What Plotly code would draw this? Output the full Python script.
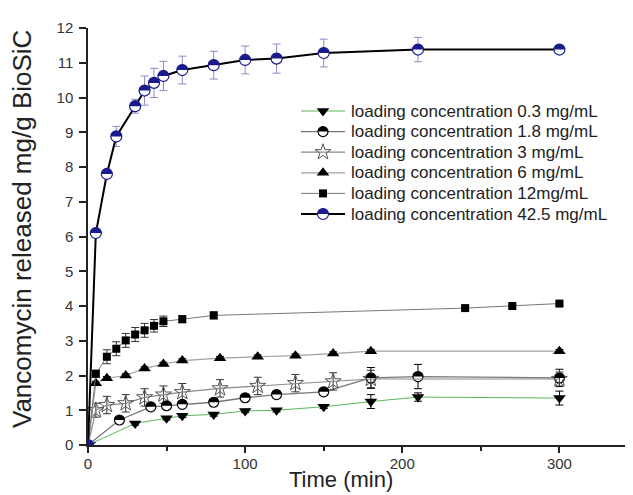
import math
import plotly.graph_objects as go

# ---- data ----
t_03 = [0, 30, 50, 60, 80, 100, 120, 150, 180, 210, 300]
v_03 = [0, 0.62, 0.77, 0.84, 0.88, 0.98, 1.0, 1.1, 1.25, 1.38, 1.35]
e_03 = [0, 0.05, 0.05, 0.05, 0.05, 0.05, 0.05, 0.05, 0.2, 0.12, 0.2]

t_18 = [0, 20, 40, 50, 60, 80, 100, 120, 150, 180, 210, 300]
v_18 = [0, 0.72, 1.1, 1.13, 1.17, 1.23, 1.36, 1.45, 1.53, 1.93, 1.97, 1.93]
e_18 = [0, 0.08, 0.08, 0.08, 0.08, 0.1, 0.1, 0.1, 0.1, 0.3, 0.35, 0.25]

t_3 = [0, 5, 12, 24, 36, 48, 60, 84, 108, 132, 156, 180, 300]
v_3 = [0, 1.0, 1.15, 1.2, 1.37, 1.45, 1.52, 1.63, 1.7, 1.78, 1.83, 1.9, 1.9]
e_3 = [0, 0.2, 0.25, 0.25, 0.25, 0.25, 0.25, 0.25, 0.25, 0.25, 0.25, 0.25, 0.2]

t_6 = [0, 5, 12, 24, 36, 48, 60, 84, 108, 132, 156, 180, 300]
v_6 = [0, 1.78, 1.92, 2.0, 2.2, 2.33, 2.43, 2.5, 2.54, 2.57, 2.63, 2.7, 2.7]
e_6 = [0, 0.05, 0.05, 0.05, 0.05, 0.05, 0.05, 0.05, 0.05, 0.05, 0.05, 0.05, 0.05]

t_12 = [0, 5, 12, 18, 24, 30, 36, 42, 48, 60, 80, 240, 270, 300]
v_12 = [0, 2.05, 2.54, 2.77, 3.01, 3.18, 3.3, 3.43, 3.56, 3.62, 3.73, 3.94, 4.0, 4.07]
e_12 = [0, 0.1, 0.2, 0.2, 0.2, 0.2, 0.2, 0.18, 0.15, 0.1, 0.1, 0.05, 0.05, 0.05]

t_425 = [0, 5, 12, 18, 30, 36, 42, 48, 60, 80, 100, 120, 150, 210, 300]
v_425 = [0, 6.1, 7.8, 8.88, 9.75, 10.2, 10.42, 10.62, 10.79, 10.93, 11.08, 11.12, 11.28, 11.38, 11.38]
e_425 = [0, 0.05, 0.05, 0.29, 0.2, 0.42, 0.42, 0.42, 0.4, 0.4, 0.4, 0.42, 0.4, 0.35, 0.05]

names = [
    "loading concentration 0.3 mg/mL",
    "loading concentration 1.8 mg/mL",
    "loading concentration 3 mg/mL",
    "loading concentration 6 mg/mL",
    "loading concentration 12mg/mL",
    "loading concentration 42.5 mg/mL",
]

x_ticks = [0, 100, 200, 300]
x_minor = [50, 150, 250, 350]

NAVY = "#1a1a8a"
FONT = "Liberation Sans, Arial, sans-serif"

# ---- styles (per series, in legend order) ----
styles = [
    dict(line=dict(color="#5cb85c", width=1),
         marker=dict(symbol="triangle-down", size=11, color="black"), err="black", half=None),
    dict(line=dict(color="#777777", width=1.3),
         marker=dict(symbol="circle", size=10, color="white", line=dict(color="black", width=1.2)),
         err="black", half="black"),
    dict(line=dict(color="#888888", width=1.2),
         marker=dict(symbol="star-open", size=12, color="#555555", line=dict(color="#555555", width=1)),
         err="#333333", half=None),
    dict(line=dict(color="#a0a0a0", width=1.2),
         marker=dict(symbol="triangle-up", size=11, color="black"), err="black", half=None),
    dict(line=dict(color="#777777", width=1),
         marker=dict(symbol="square", size=8, color="black"), err="#333333", half=None),
    dict(line=dict(color="black", width=2),
         marker=dict(symbol="circle", size=11, color="white", line=dict(color=NAVY, width=1.2)),
         err="#8a8ac8", half=NAVY),
]

series = [(t_03, v_03, e_03), (t_18, v_18, e_18), (t_3, v_3, e_3),
          (t_6, v_6, e_6), (t_12, v_12, e_12), (t_425, v_425, e_425)]


def half_disc_path(r):
    # upper half of a disc, in pixel offsets (positive y = up)
    pts = []
    for k in range(0, 13):
        a = math.pi * k / 12
        pts.append((r * math.cos(a), r * math.sin(a)))
    return "M " + " L ".join(f"{px:.2f},{py:.2f}" for px, py in pts) + " Z"


def half_shape(x, y, color, r, xref="x", yref="y"):
    return dict(type="path", xref=xref, yref=yref, xsizemode="pixel", ysizemode="pixel",
                xanchor=x, yanchor=y, path=half_disc_path(r), fillcolor=color,
                line=dict(width=0), layer="above")


fig = go.Figure()
shapes = []

for (t, v, e), nm, st in zip(series, names, styles):
    fig.add_trace(go.Scatter(x=t, y=v, name=nm, mode="lines+markers", showlegend=False,
                             line=st["line"], marker=st["marker"],
                             error_y=dict(type="data", array=e, visible=True, color=st["err"],
                                          thickness=1, width=4)))
    if st["half"]:
        r = st["marker"]["size"] / 2.0
        for xx, yy in zip(t, v):
            shapes.append(half_shape(xx, yy, st["half"], r))

# ---- hand-built legend on an overlay pixel axis ----
PL, PR, PT, PB = 80, 630, 20, 437      # plot area in pixels
LEG_X0, LEG_X1, LEG_TX = 293, 337, 341
LEG_Y0, LEG_DY = 103, 20.6
for i, (nm, st) in enumerate(zip(names, styles)):
    yy = LEG_Y0 + i * LEG_DY
    xm = (LEG_X0 + LEG_X1) / 2
    fig.add_trace(go.Scatter(x=[LEG_X0, LEG_X1], y=[yy, yy], xaxis="x2", yaxis="y2",
                             mode="lines", line=st["line"], showlegend=False, hoverinfo="skip"))
    fig.add_trace(go.Scatter(x=[xm], y=[yy], xaxis="x2", yaxis="y2", mode="markers",
                             marker=st["marker"], showlegend=False, hoverinfo="skip"))
    if st["half"]:
        shapes.append(half_shape(xm, yy, st["half"], st["marker"]["size"] / 2.0,
                                 xref="x2", yref="y2"))
    fig.add_annotation(x=LEG_TX, y=yy, xref="x2", yref="y2", text=nm, showarrow=False,
                       xanchor="left", yanchor="middle",
                       font=dict(family=FONT, size=17, color="#222222"))

# axis titles as text annotations
fig.add_annotation(x=(333 - PL) / (PR - PL), y=-(472 - PB) / (PB - PT), xref="paper", yref="paper",
                   text="Time (min)", showarrow=False, xanchor="center", yanchor="middle",
                   font=dict(family=FONT, size=22, color="#222222"))
fig.add_annotation(x=(14 - PL) / (PR - PL), y=(PB - 221) / (PB - PT), xref="paper", yref="paper",
                   text="Vancomycin released mg/g BioSiC", showarrow=False, textangle=-90,
                   xanchor="center", yanchor="middle",
                   font=dict(family=FONT, size=26, color="#222222"))

fig.update_layout(
    width=633, height=495,
    margin=dict(l=PL, r=633 - PR, t=PT, b=495 - PB),
    paper_bgcolor="white", plot_bgcolor="white",
    font=dict(family=FONT, color="#222222"),
    showlegend=False,
    shapes=shapes,
    xaxis=dict(range=[0, 350], tickvals=x_ticks, showgrid=False, zeroline=False,
               showline=True, linecolor="#222222", linewidth=1.5,
               ticks="outside", ticklen=6, tickwidth=1.5, tickcolor="#222222",
               minor=dict(tickvals=x_minor, ticks="outside", ticklen=4,
                          tickwidth=1.5, tickcolor="#222222"),
               tickfont=dict(size=15, color="#333333"), ticklabelstandoff=-2),
    yaxis=dict(range=[0, 12], dtick=1, showgrid=False, zeroline=False,
               showline=True, linecolor="#222222", linewidth=1.5,
               ticks="outside", ticklen=7, tickwidth=1.5, tickcolor="#222222",
               tickfont=dict(size=15, color="#333333"), ticklabelstandoff=3),
    xaxis2=dict(range=[PL, PR], overlaying="x", visible=False, fixedrange=True),
    yaxis2=dict(range=[PB, PT], overlaying="y", visible=False, fixedrange=True),
)

fig.write_html("out.html")
